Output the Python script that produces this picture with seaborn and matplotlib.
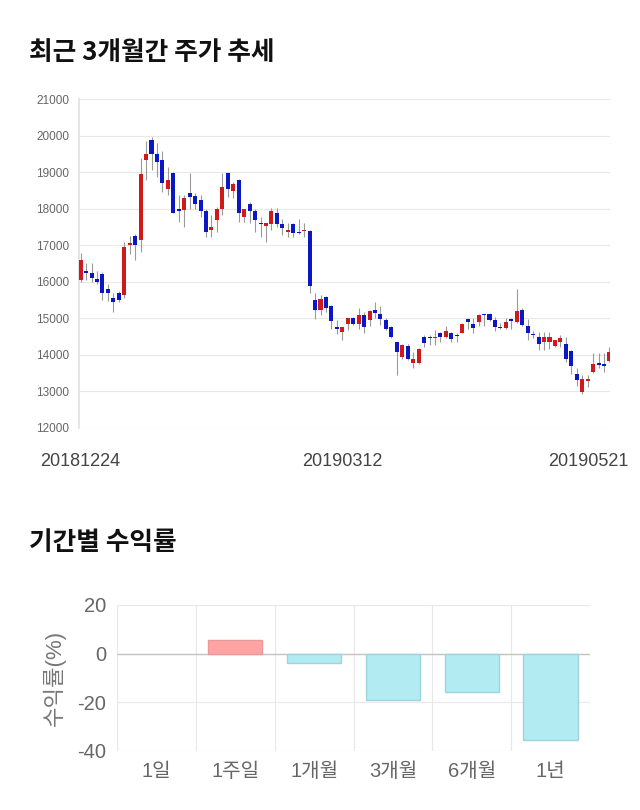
import matplotlib
matplotlib.use("Agg")
import matplotlib.pyplot as plt
import matplotlib.transforms as mtransforms
import numpy as np
import pandas as pd
import seaborn as sns

# Daily candles, 2018-12-24 .. 2019-05-21
opens = [16050, 16300, 16230, 16080, 16200, 15800, 15550, 15700, 15650, 17000,
         17250, 17140, 19330, 19880, 19500, 19330, 18530, 18980, 17990, 17960,
         18420, 18340, 18230, 17930, 17430, 17690, 17980, 18980, 18480, 18780,
         17780, 18140, 17930, 17590, 17530, 17580, 17890, 17580, 17370, 17580,
         17350, 17390, 17390, 15500, 15220, 15590, 15340, 14750, 14630, 14840,
         15000, 14840, 15090, 14950, 15240, 15130, 14950, 14750, 14340, 13950,
         14240, 13780, 13780, 14490, 14490, 14450, 14590, 14490, 14590, 14520,
         14590, 14990, 14840, 14890, 15100, 15130, 14950, 14750, 14740, 14990,
         14890, 15240, 14790, 14550, 14490, 14340, 14340, 14250, 14340, 14290,
         14100, 13490, 12990, 13290, 13540, 13740, 13750, 13840]
highs = [16790, 16520, 16520, 16300, 16280, 15940, 15700, 15750, 17100, 17260,
         17300, 19380, 19860, 19970, 19790, 19580, 19130, 19010, 18370, 18370,
         18980, 18420, 18370, 18000, 17820, 18050, 18970, 19000, 18740, 18800,
         18000, 18190, 18000, 17780, 17600, 18020, 18020, 17730, 17610, 17600,
         17730, 17610, 17410, 15700, 15630, 15610, 15360, 14950, 14770, 15020,
         15040, 15270, 15180, 15220, 15450, 15330, 15000, 14790, 14360, 14310,
         14310, 14080, 14180, 14540, 14540, 14680, 14630, 14790, 14630, 14590,
         14880, 15020, 15020, 15110, 15130, 15150, 15040, 14880, 15020, 15020,
         15790, 15270, 14970, 14660, 14630, 14630, 14630, 14400, 14540, 14490,
         14130, 13630, 13440, 13440, 14040, 14040, 14040, 14220]
lows = [16000, 16050, 16000, 15950, 15500, 15480, 15180, 15450, 15550, 16770,
        16600, 16820, 18780, 19070, 18870, 18460, 18370, 17870, 17640, 17500,
        18000, 18000, 17780, 17230, 17230, 17370, 17820, 18330, 18280, 17640,
        17640, 17600, 17370, 17230, 17100, 17410, 17500, 17280, 17230, 17230,
        17300, 17230, 15700, 14970, 15090, 15180, 14700, 14570, 14400, 14680,
        14810, 14720, 14590, 14790, 15020, 14810, 14680, 14450, 13450, 13900,
        13860, 13650, 13760, 14220, 14270, 14270, 14360, 14450, 14360, 14360,
        14590, 14720, 14590, 14790, 14790, 14930, 14660, 14700, 14720, 14720,
        14860, 14790, 14420, 14450, 14130, 14130, 14170, 14220, 14220, 13810,
        13490, 13140, 12940, 13130, 13510, 13650, 13530, 13810]
closes = [16590, 16250, 16100, 15990, 15700, 15700, 15450, 15500, 16950, 17050,
          17000, 18940, 19500, 19500, 19280, 18690, 18780, 17890, 17930, 18290,
          18330, 18140, 17930, 17370, 17490, 17980, 18580, 18530, 18670, 17890,
          17980, 17930, 17690, 17570, 17600, 17930, 17580, 17480, 17430, 17340,
          17340, 17430, 15880, 15220, 15540, 15270, 14930, 14700, 14750, 15000,
          14840, 15090, 14750, 15200, 15150, 14990, 14700, 14480, 14080, 14280,
          13900, 13900, 14150, 14330, 14450, 14490, 14490, 14650, 14440, 14510,
          14840, 14900, 14740, 15090, 15090, 14950, 14750, 14740, 14890, 14930,
          15200, 14830, 14590, 14540, 14290, 14490, 14490, 14400, 14450, 13900,
          13690, 13310, 13350, 13350, 13740, 13730, 13690, 14080]
date_ticks = [0, 48, 97]
date_labels = ["20181224", "20190312", "20190521"]

# Period returns (%)
periods = ["1일", "1주일", "1개월", "3개월", "6개월", "1년"]
returns = [0.0, 5.5, -3.9, -18.9, -15.6, -35.3]

UP, DOWN, WICK = "#d0191b", "#0b16c4", "#9a9a9a"
GRID = "#e8e8e8"
POS, POS_EDGE = "#ffa3a3", "#e99a9a"
NEG, NEG_EDGE = "#b3ebf3", "#9dd5df"

sns.set_theme(style="white")
plt.rcParams["font.family"] = ["Liberation Sans", "Noto Sans CJK KR", "DejaVu Sans"]
plt.rcParams["axes.unicode_minus"] = False

fig = plt.figure(figsize=(6.4, 8.1), dpi=100)
W, H = 640, 810

def px_axes(left, top, right, bottom):
    return fig.add_axes([left / W, 1 - bottom / H, (right - left) / W, (bottom - top) / H])

title_kw = dict(fontsize=18.5, fontweight="bold", color="#111111",
                family=["Noto Sans CJK KR"], va="center", ha="left")
fig.text(29 / W, 1 - 52 / H, "최근 3개월간 주가 추세", **title_kw)
fig.text(29 / W, 1 - 543 / H, "기간별 수익률", **title_kw)

# ---------------------------------------------------------------------------
# candlestick chart
# ---------------------------------------------------------------------------
df = pd.DataFrame({"open": opens, "high": highs, "low": lows, "close": closes})
df["x"] = np.arange(len(df))
df["up"] = df["close"] >= df["open"]
df["bottom"] = df[["open", "close"]].min(axis=1)
df["height"] = (df["close"] - df["open"]).abs().clip(lower=35)

ax = px_axes(79, 99, 610, 428)
ax.vlines(df["x"], df["low"], df["high"], color=WICK, linewidth=0.8, zorder=2)
ax.bar(df["x"], df["height"], bottom=df["bottom"], width=0.74,
       color=np.where(df["up"], UP, DOWN), linewidth=0, zorder=3)

ax.set_xlim(-0.3, 97.1)
ax.set_ylim(12000, 21000)
ax.set_yticks(np.arange(12000, 21001, 1000))
ax.yaxis.grid(True, color=GRID, linewidth=0.8)
ax.set_axisbelow(True)
for side in ["top", "right", "bottom"]:
    ax.spines[side].set_visible(False)
ax.spines["left"].set_color("#e2e2e2")
ax.tick_params(axis="y", length=0, pad=7, labelsize=8.5, labelcolor="#666666")
ax.set_xticks(date_ticks)
ax.set_xticklabels(date_labels)
ax.tick_params(axis="x", length=0, pad=18, labelsize=13, labelcolor="#444444")
last = ax.get_xticklabels()[-1]
last.set_transform(last.get_transform() + mtransforms.ScaledTranslation(-21 / 100, 0, fig.dpi_scale_trans))

# ---------------------------------------------------------------------------
# period return bars
# ---------------------------------------------------------------------------
ax2 = px_axes(117, 605, 590, 751)
colors = [POS if v >= 0 else NEG for v in returns]
sns.barplot(x=periods, y=returns, hue=periods, palette=colors, legend=False,
            width=0.69, linewidth=1, saturation=1, ax=ax2, zorder=3)
for patch, v in zip(ax2.patches, returns):
    patch.set_edgecolor(POS_EDGE if v > 0 else NEG_EDGE)
    if v == 0:
        patch.set_linewidth(0)

ax2.set_xlim(-0.5, 5.5)
ax2.set_ylim(-40, 20)
ax2.set_yticks([-40, -20, 0, 20])
ax2.yaxis.grid(True, color=GRID, linewidth=0.8)
ax2.set_xticks(np.arange(-0.5, 5.0, 1), minor=True)
ax2.xaxis.grid(True, which="minor", color=GRID, linewidth=0.8)
ax2.axhline(0, color="#c4c4c4", linewidth=1, zorder=2)
ax2.set_axisbelow(True)
for side in ax2.spines:
    ax2.spines[side].set_visible(False)
ax2.tick_params(axis="x", which="minor", length=7, width=0.8, color=GRID)
ax2.tick_params(axis="x", which="major", length=0, pad=8, labelsize=14.5, labelcolor="#666666")
ax2.tick_params(axis="y", length=0, pad=8, labelsize=14.5, labelcolor="#666666")
ax2.set_xlabel("")
ax2.set_ylabel("수익률(%)", fontsize=16, color="#777777", labelpad=8)

fig.savefig("out.png", dpi=100)
